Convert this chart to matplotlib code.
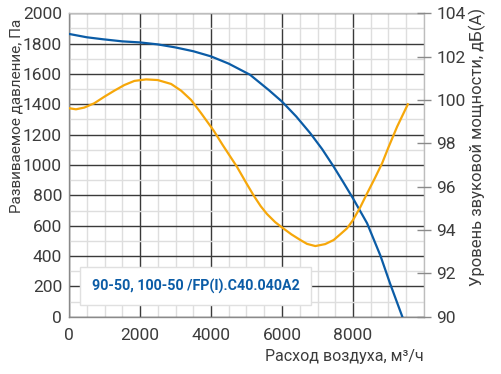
import matplotlib
matplotlib.use("Agg")
import matplotlib.pyplot as plt
from matplotlib.ticker import MultipleLocator

# --- данные ---
расход_давл = [0, 500, 950, 1500, 2000, 2500, 3000, 3500, 4000, 4500, 5099,
               5623, 6000, 6400, 6798, 7130, 7456, 7730, 8000, 8397, 8773, 9042, 9389]
давление = [1864, 1842, 1829, 1815, 1808, 1795, 1775, 1750, 1716, 1668, 1595,
            1495, 1418, 1320, 1209, 1105, 989, 885, 780, 616, 402, 220, 0]

расход_шум = [0, 197, 431, 713, 995, 1277, 1559, 1841, 2171, 2499, 2876, 3158,
              3440, 3722, 4078, 4330, 4730, 5000, 5199, 5400, 5576, 5810, 6000,
              6264, 6516, 6705, 6939, 7217, 7456, 7640, 7833, 8000, 8204, 8397,
              8600, 8820, 9000, 9243, 9544]
шум = [99.62, 99.57, 99.65, 99.85, 100.15, 100.43, 100.69, 100.88, 100.95, 100.92,
       100.74, 100.43, 100.0, 99.39, 98.58, 97.92, 96.92, 96.15, 95.60, 95.10,
       94.74, 94.36, 94.12, 93.80, 93.54, 93.36, 93.26, 93.35, 93.54, 93.8, 94.08,
       94.46, 95.05, 95.69, 96.34, 97.08, 97.82, 98.77, 99.80]

подпись = "90-50, 100-50 /FP(I).C40.040A2"

СИНИЙ = "#0b5ca6"
ОРАНЖ = "#f6a70a"
ТЕКСТ = "#3c3c3c"

plt.rcParams['font.family'] = ['Roboto', 'DejaVu Sans']

fig = plt.figure(figsize=(5.01, 3.74), dpi=100)
ax = fig.add_axes([69/501, 1 - 316.7/374, 355/501, 303.4/374])

ax.set_xlim(0, 10000)
ax.set_ylim(0, 2000)
ax.set_xticks([0, 2000, 4000, 6000, 8000])
ax.xaxis.set_minor_locator(MultipleLocator(500))
ax.yaxis.set_major_locator(MultipleLocator(200))
ax.yaxis.set_minor_locator(MultipleLocator(100))
ax.grid(which='minor', color='#dedede', linewidth=1.0)
ax.grid(which='major', color='#3a3a3a', linewidth=1.0)
ax.set_axisbelow(True)
for s in ax.spines.values():
    s.set_color('#bdbdbd')
    s.set_linewidth(1.0)
ax.spines['left'].set_color('#8a8a8a')
ax.spines['bottom'].set_color('#8a8a8a')

ax.tick_params(which='both', length=0, labelsize=12.5, colors=ТЕКСТ)
ax.tick_params(axis='y', pad=5)
ax.tick_params(axis='x', pad=8)

ax.plot(расход_давл, давление, color=СИНИЙ, linewidth=1.6, zorder=3)

ax2 = ax.twinx()
ax2.set_ylim(90, 104)
ax2.yaxis.set_major_locator(MultipleLocator(2))
ax2.tick_params(axis='y', direction='inout', length=10, width=1, color='#8a8a8a',
                labelsize=12.5, labelcolor=ТЕКСТ, pad=4)
for s in ax2.spines.values():
    s.set_visible(False)
ax2.plot(расход_шум, шум, color=ОРАНЖ, linewidth=1.6, zorder=3)

# подписи осей (положение как на исходной картинке)
fig.text(17/501, 1 - 115.5/374, "Развиваемое давление, Па", rotation=90,
         ha='center', va='center', fontsize=11, color=ТЕКСТ)
fig.text(477/501, 1 - 146.5/374, "Уровень звуковой мощности, дБ(А)", rotation=90,
         ha='center', va='center', fontsize=12, color=ТЕКСТ)
fig.text(424/501, 1 - 356/374, "Расход воздуха, м³/ч", ha='right', va='center',
         fontsize=11.5, color=ТЕКСТ)

ax2.text(0.357, 0.101, подпись, transform=ax.transAxes, ha='center', va='center',
         fontsize=10.3, color=СИНИЙ, fontweight='bold', zorder=5,
         bbox=dict(boxstyle='square,pad=0.8', facecolor='white',
                   edgecolor='#e0e0e0', linewidth=1))

fig.savefig("out.png", dpi=100)
